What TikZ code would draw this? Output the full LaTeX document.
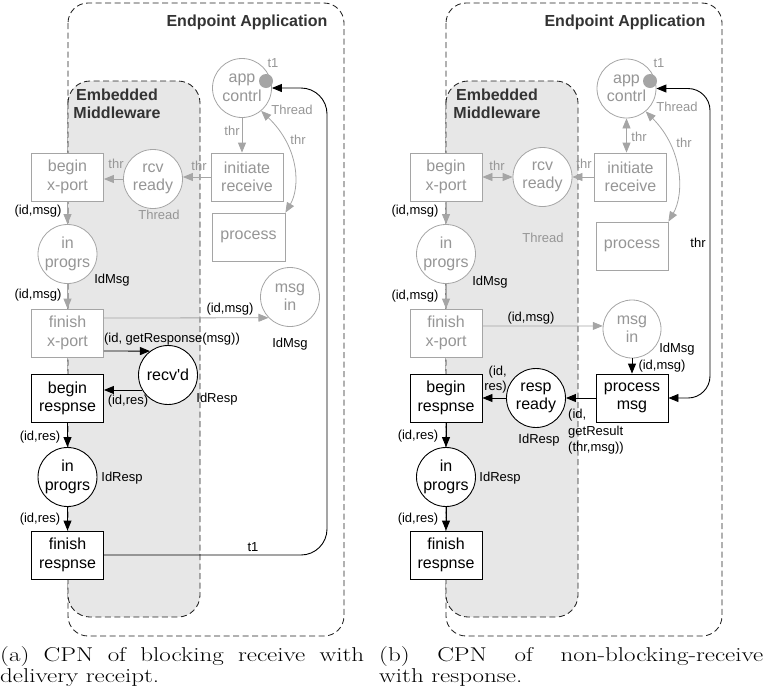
\documentclass[tikz,border=0pt]{standalone}
\usepackage{fontspec}
\usetikzlibrary{arrows.meta}
\newfontfamily\hv{Liberation Sans}
\definecolor{gl}{RGB}{165,165,165}
\definecolor{gt}{RGB}{150,150,150}
\definecolor{mwfill}{RGB}{231,231,231}
\definecolor{ttl}{RGB}{51,51,51}
\definecolor{dsh}{RGB}{35,35,35}
\tikzset{
  >={Triangle[length=10pt,width=8pt]},
  pl/.style={circle, draw, fill=white, minimum size=59pt, inner sep=0pt, align=center, font=\hv\fontsize{16}{18.5}\selectfont},
  tr/.style={rectangle, draw, fill=white, minimum width=72pt, minimum height=48pt, inner sep=0pt, align=center, font=\hv\fontsize{16}{18.5}\selectfont},
  gr/.style={draw=gl, text=gt, line width=0.8pt},
  bk/.style={draw=black, text=black, line width=0.9pt},
  tok/.style={circle, fill=gl, draw=none, minimum size=14pt, inner sep=0pt},
  garr/.style={draw=gl, line width=0.8pt},
  barr/.style={draw=black, line width=0.9pt},
  lab/.style={font=\hv\fontsize{13}{15}\selectfont, inner sep=0pt, text=black},
  glab/.style={lab, text=gt},
  ttlst/.style={font=\hv\bfseries\fontsize{16}{18}\selectfont, text=ttl, inner sep=0pt, align=center},
  dbox/.style={draw=dsh, dash pattern=on 6pt off 3.5pt, line width=0.85pt},
  capst/.style={font=\fontsize{25}{22}\selectfont, inner sep=0pt, anchor=base west}
}
\begin{document}
\begin{tikzpicture}[x=1pt,y=-1pt]
\useasboundingbox (0,0) rectangle (763,686);

% ---------------- (a) ----------------
\draw[dbox, rounded corners=20pt] (68,3) rectangle (344,636);
\draw[dbox, fill=mwfill, rounded corners=22pt] (68,81) rectangle (200,617);
\node[ttlst] (ea1) at (247,22) {Endpoint Application};
\node[ttlst] (em1) at (117,104) {Embedded\\Middleware};

\node[tr,gr] (bx1) at (67.5,177) {begin\\x-port};
\node[pl,gr] (rcv) at (153,179) {rcv\\ready};
\node[tr,gr] (init) at (247,177) {initiate\\receive};
\node[pl,gr] (app) at (242,88) {app\\contrl};
\node[tr,gr, minimum width=73pt] (proc) at (248.5,237) {process};
\node[pl,gr] (msgin) at (290,297) {msg\\in};
\node[pl,gr] (ip1) at (67.5,254) {in\\progrs};
\node[tr,gr] (fx) at (67.5,333) {finish\\x-port};
\node[pl,bk] (recvd) at (168,375) {recv'd};
\node[tr,bk] (br) at (67.5,398.5) {begin\\respnse};
\node[pl,bk] (ip2) at (67.5,477) {in\\progrs};
\node[tr,bk] (fr) at (67.5,555) {finish\\respnse};
\node[tok] (tk) at (266,81) {};

\draw[garr,->] (app.south) -- (app.south |- init.north);
\draw[garr,->] (init.west) -- (init.west -| rcv.east);
\draw[garr,->] (rcv.west) -- (rcv.west -| bx1.east);
\draw[garr,<->] (app.-50) .. controls (300,148) and (300,188) .. (proc.north east);
\draw[garr,->] (bx1) -- (ip1);
\draw[garr,->] (ip1) -- (fx);
\draw[garr,->] ([yshift=15pt]fx.east) -- (msgin.224.5);
\draw[barr,->] ([yshift=-18pt]fx.east) -- (recvd.127);
\draw[barr,->] (recvd.210) -- (recvd.210 -| br.east);
\draw[barr,->] (br) -- (ip2);
\draw[barr,->] (ip2) -- (fr);
\draw[barr,->,rounded corners=26pt] (fr.east) -- (327,555) -- (327,88) -- (app.east);

\node[glab] (t1a) at (273,63) {t1};
\node[glab] (tha) at (292,110) {Thread};
\node[glab] (thr1) at (232,131) {thr};
\node[glab] (thr2) at (199,166) {thr};
\node[glab] (thr3) at (116,164) {thr};
\node[glab] (thr4) at (298,140) {thr};
\node[glab] (thb) at (159,215) {Thread};
\node[lab] (m1) at (38,211) {(id,msg)};
\node[lab] (m2) at (38,295) {(id,msg)};
\node[lab] (m3) at (112,280) {IdMsg};
\node[lab] (m4) at (230,309) {(id,msg)};
\node[lab] (m5) at (290,344) {IdMsg};
\node[lab] (m6) at (172,339) {(id, getResponse(msg))};
\node[lab] (m7) at (217,399) {IdResp};
\node[lab] (m8) at (128,401) {(id,res)};
\node[lab] (m9) at (40,437) {(id,res)};
\node[lab] (m10) at (122,478) {IdResp};
\node[lab] (m11) at (40,519) {(id,res)};
\node[lab] (m12) at (253,547) {t1};

% ---------------- (b) ----------------
\draw[dbox, rounded corners=20pt] (446,3) rectangle (722,636);
\draw[dbox, fill=mwfill, rounded corners=22pt] (446,81) rectangle (578,617);
\node[ttlst] (ea2) at (625,22) {Endpoint Application};
\node[ttlst] (em2) at (497,104) {Embedded\\Middleware};

\node[tr,gr] (bx1b) at (446,177) {begin\\x-port};
\node[pl,gr] (rcvb) at (542.5,177) {rcv\\ready};
\node[tr,gr] (initb) at (630.5,177) {initiate\\receive};
\node[pl,gr] (appb) at (626.5,88.5) {app\\contrl};
\node[tr,gr] (procb) at (632,246) {process};
\node[pl,gr, minimum size=58pt] (msgb) at (632,329) {msg\\in};
\node[pl,gr] (ip1b) at (446,254) {in\\progrs};
\node[tr,gr] (fxb) at (446,333) {finish\\x-port};
\node[pl,bk] (respb) at (536,398) {resp\\ready};
\node[tr,bk] (pmb) at (632,398) {process\\msg};
\node[tr,bk] (brb) at (446,398) {begin\\respnse};
\node[pl,bk] (ip2b) at (446,477) {in\\progrs};
\node[tr,bk] (frb) at (446,555) {finish\\respnse};
\node[tok] (tkb) at (650,81) {};

\draw[garr,<->] (appb.south) -- (appb.south |- initb.north);
\draw[garr,->] (initb.west) -- (initb.west -| rcvb.east);
\draw[garr,<->] (rcvb.west) -- (rcvb.west -| bx1b.east);
\draw[garr,<->] (appb.-50) .. controls (684,150) and (684,195) .. (procb.north east);
\draw[garr,->] (bx1b) -- (ip1b);
\draw[garr,->] (ip1b) -- (fxb);
\draw[garr,->] ([yshift=7pt]fxb.east) -- (msgb.174);
\draw[barr,->] (msgb) -- (pmb);
\draw[barr,->] (pmb) -- (respb);
\draw[barr,->] (respb) -- (brb);
\draw[barr,->] (brb) -- (ip2b);
\draw[barr,->] (ip2b) -- (frb);
\draw[barr,<->,rounded corners=22pt] (appb.east) -- (710,88.5) -- (710,398) -- (pmb.east);

\node[glab] (t1b) at (659,63) {t1};
\node[glab] (thc) at (677,107) {Thread};
\node[glab] (thr5) at (639,137) {thr};
\node[glab] (thr6) at (584,164) {thr};
\node[glab] (thr7) at (497,166) {thr};
\node[glab] (thr8) at (684,143) {thr};
\node[glab] (thd) at (543,238) {Thread};
\node[lab] (n1) at (415,211) {(id,msg)};
\node[lab] (n2) at (415,296) {(id,msg)};
\node[lab] (n3) at (490,282) {IdMsg};
\node[lab] (n4) at (531,318) {(id,msg)};
\node[lab] (n5) at (677,349) {IdMsg};
\node[lab] (n6) at (662,366) {(id,msg)};
\node[lab] (n7) at (698,243) {thr};
\node[lab, align=right, anchor=east] (n8) at (507,380) {(id,\\res)};
\node[lab, align=left, anchor=north west, font=\hv\fontsize{13}{16.5}\selectfont] (n9) at (568,409) {(id,\\getResult\\(thr,msg))};
\node[lab] (n10) at (539,440) {IdResp};
\node[lab] (n11) at (418,436) {(id,res)};
\node[lab] (n12) at (500,478) {IdResp};
\node[lab] (n13) at (418,519) {(id,res)};

% ---------------- captions ----------------
\node[capst] (ca1) at (0,661) {\scalebox{1}[0.8]{\makebox[364pt][s]{(a) CPN of blocking receive with}}};
\node[capst] (ca2) at (0,682) {\scalebox{1}[0.8]{delivery receipt.}};
\node[capst] (cb1) at (379,661) {\scalebox{1}[0.8]{\makebox[384pt][s]{(b) CPN of non-blocking-receive}}};
\node[capst] (cb2) at (379,682) {\scalebox{1}[0.8]{with response.}};
\end{tikzpicture}
\end{document}
